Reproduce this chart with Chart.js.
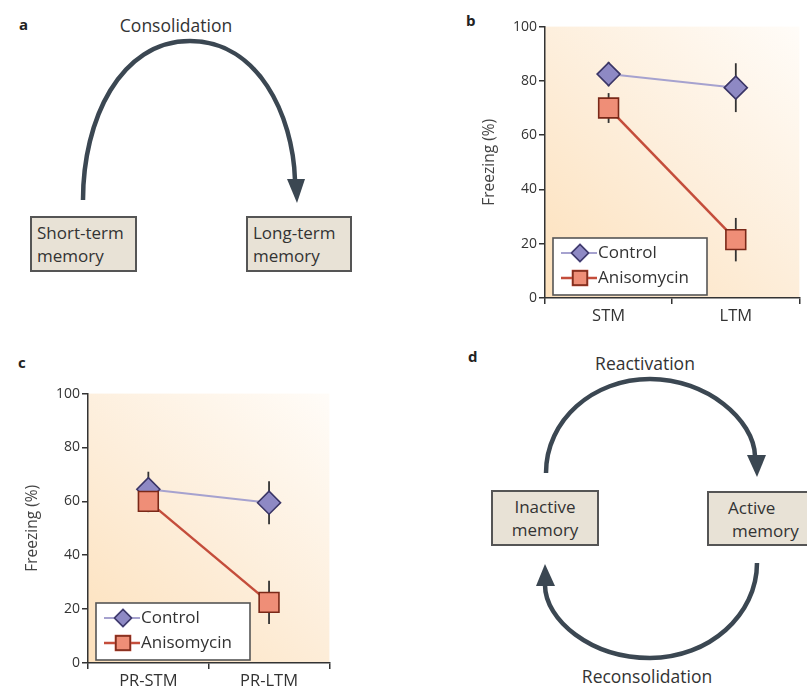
<!DOCTYPE html>
<html>
<head>
<meta charset="utf-8">
<script src="https://cdn.jsdelivr.net/npm/chart.js@4.4.1/dist/chart.umd.min.js"></script>
<style>
  html, body { margin: 0; padding: 0; background: #fff; }
  body { width: 807px; height: 688px; position: relative; overflow: hidden; font-family: "Open Sans", sans-serif; }
  svg#diagram { position: absolute; left: 0; top: 0; }
  canvas { position: absolute; }
  #chartB { left: 480px; top: 11px; }
  #chartC { left: 23px; top: 378px; }
</style>
</head>
<body>
<svg id="diagram" width="807" height="688" font-family="Open Sans, sans-serif">
  <!-- panel letters -->
  <text x="19" y="30" font-size="15" font-weight="bold" fill="#222">a</text>
  <text x="466" y="26" font-size="15" font-weight="bold" fill="#222">b</text>
  <text x="18" y="368" font-size="15" font-weight="bold" fill="#222">c</text>
  <text x="468" y="362" font-size="15" font-weight="bold" fill="#222">d</text>

  <!-- a: consolidation -->
  <text x="176" y="32" font-size="17.5" text-anchor="middle" fill="#333">Consolidation</text>
  <path d="M83,200 C83,120 120,41 190,41 C258,41 293,115 295,180" fill="none" stroke="#3b4752" stroke-width="4.5"/>
  <polygon points="287,179 305,179 297,203" fill="#3b4752"/>
  <rect x="31" y="217" width="105" height="54" fill="#e8e2d6" stroke="#555" stroke-width="2"/>
  <text x="37" y="239" font-size="17" fill="#333">Short-term</text>
  <text x="37" y="262" font-size="17" fill="#333">memory</text>
  <rect x="247" y="217" width="104" height="54" fill="#e8e2d6" stroke="#555" stroke-width="2"/>
  <text x="253" y="239" font-size="17" fill="#333">Long-term</text>
  <text x="253" y="262" font-size="17" fill="#333">memory</text>

  <!-- d: reactivation / reconsolidation -->
  <text x="645" y="370" font-size="17.5" text-anchor="middle" fill="#333">Reactivation</text>
  <path d="M546,473 C546,420 593,379 650,379 C707,379 754,420 755,456" fill="none" stroke="#3b4752" stroke-width="4.5"/>
  <polygon points="747,455 766,455 757,477" fill="#3b4752"/>
  <path d="M757,563 C757,615 709,658 650,658 C591,658 545,620 545,585" fill="none" stroke="#3b4752" stroke-width="4.5"/>
  <polygon points="536,586 555,586 545,564" fill="#3b4752"/>
  <text x="647" y="683" font-size="17.5" text-anchor="middle" fill="#333">Reconsolidation</text>
  <rect x="492" y="491" width="106" height="54" fill="#e8e2d6" stroke="#555" stroke-width="2"/>
  <text x="545" y="513" font-size="17" text-anchor="middle" fill="#333">Inactive</text>
  <text x="545" y="536" font-size="17" text-anchor="middle" fill="#333">memory</text>
  <rect x="708" y="492" width="112" height="53" fill="#e8e2d6" stroke="#555" stroke-width="2"/>
  <text x="728" y="514" font-size="17" fill="#333">Active</text>
  <text x="732" y="537" font-size="17" fill="#333">memory</text>
</svg>

<canvas id="chartB" width="335" height="315"></canvas>
<canvas id="chartC" width="322" height="313"></canvas>

<script>
// ---- data ----
const seriesNames = ['Control', 'Anisomycin'];

const categoriesB = ['STM', 'LTM'];
const controlB = [82.5, 77.5];
const controlErrB = [4.5, 9];
const anisoB = [70, 21.5];
const anisoErrB = [5.5, 8];

const categoriesC = ['PR-STM', 'PR-LTM'];
const controlC = [64.5, 59.5];
const controlErrC = [6.5, 8];
const anisoC = [60, 22.5];
const anisoErrC = [4, 8];

const yTickStep = 20;

const FONT = '"Open Sans", sans-serif';

// peach gradient behind the plot
const bgPlugin = {
    id: 'bgFill',
    beforeDraw(chart) {
        const a = chart.chartArea, ctx = chart.ctx;
        const g = ctx.createLinearGradient(a.left, a.bottom, a.right, a.top);
        g.addColorStop(0, '#fde1bc');
        g.addColorStop(0.5, '#fdeedb');
        g.addColorStop(1, '#fffcf8');
        ctx.save();
        ctx.fillStyle = g;
        ctx.fillRect(a.left, a.top, a.right - a.left, a.bottom - a.top);
        ctx.restore();
    }
};

// vertical error bars, drawn under the markers
const errPlugin = {
    id: 'errBars',
    beforeDatasetsDraw(chart) {
        const ctx = chart.ctx, y = chart.scales.y;
        chart.data.datasets.forEach((ds, i) => {
            const meta = chart.getDatasetMeta(i);
            meta.data.forEach((pt, j) => {
                const v = ds.data[j], e = ds.errors[j];
                ctx.save();
                ctx.strokeStyle = '#333';
                ctx.lineWidth = 1.8;
                ctx.beginPath();
                ctx.moveTo(pt.x, y.getPixelForValue(v + e));
                ctx.lineTo(pt.x, y.getPixelForValue(v - e));
                ctx.stroke();
                ctx.restore();
            });
        });
    }
};

// boxed legend inside the plot, bottom-left
const boxLegend = {
    id: 'boxLegend',
    afterDraw(chart) {
        const a = chart.chartArea, ctx = chart.ctx;
        const w = 154, h = 57;
        const bx = a.left + 8, by = a.bottom - 3 - h;
        ctx.save();
        ctx.fillStyle = '#ffffff';
        ctx.strokeStyle = '#555';
        ctx.lineWidth = 1.6;
        ctx.fillRect(bx, by, w, h);
        ctx.strokeRect(bx, by, w, h);
        const order = [1, 0]; // Control first, then Anisomycin
        order.forEach((di, row) => {
            const ds = chart.data.datasets[di];
            const cy = by + 15 + row * 25;
            ctx.strokeStyle = ds.borderColor;
            ctx.lineWidth = ds.borderWidth;
            ctx.beginPath();
            ctx.moveTo(bx + 8, cy);
            ctx.lineTo(bx + 44, cy);
            ctx.stroke();
            Chart.helpers.drawPoint(ctx, {
                pointStyle: ds.pointStyle,
                radius: ds.pointStyle === 'rect' ? 10 : 8.5,
                borderWidth: 1.5,
                rotation: 0
            }, bx + 27, cy);
            ctx.fillStyle = ds.pointBackgroundColor;
            ctx.strokeStyle = ds.pointBorderColor;
            ctx.lineWidth = 1.5;
            ctx.fill();
            ctx.stroke();
            ctx.fillStyle = '#333';
            ctx.font = '17px ' + FONT;
            ctx.textBaseline = 'middle';
            ctx.fillText(ds.label, bx + 45, cy);
        });
        ctx.restore();
    }
};

function makeChart(id, cats, ctrl, ctrlErr, ani, aniErr) {
    const ctx = document.getElementById(id).getContext('2d');
    return new Chart(ctx, {
        type: 'line',
        data: {
            labels: cats,
            datasets: [
                {
                    label: seriesNames[1],
                    data: ani,
                    errors: aniErr,
                    borderColor: '#c44d3b',
                    borderWidth: 2.5,
                    pointStyle: 'rect',
                    pointRadius: 14,
                    pointBackgroundColor: '#ef8e77',
                    pointBorderColor: '#7a2818',
                    pointBorderWidth: 1.6,
                    order: 1
                },
                {
                    label: seriesNames[0],
                    data: ctrl,
                    errors: ctrlErr,
                    borderColor: '#a6a2cf',
                    borderWidth: 2,
                    pointStyle: 'rectRot',
                    pointRadius: 11.5,
                    pointBackgroundColor: '#8e89c4',
                    pointBorderColor: '#3a3566',
                    pointBorderWidth: 1.6,
                    order: 2
                }
            ]
        },
        options: {
            responsive: false,
            animation: false,
            layout: { padding: { top: 5, right: 0, left: 0, bottom: 0 } },
            plugins: { legend: { display: false }, tooltip: { enabled: false } },
            scales: {
                x: {
                    type: 'category',
                    offset: true,
                    grid: { offset: true, drawOnChartArea: false, tickLength: 6, color: '#333', lineWidth: 1.5 },
                    border: { color: '#333', width: 1.5 },
                    ticks: { font: { family: FONT, size: 16.5 }, color: '#333', padding: 2 },
                    afterFit: s => { s.height = 28; }
                },
                y: {
                    min: 0, max: 100,
                    ticks: { stepSize: yTickStep, font: { family: FONT, size: 14 }, color: '#333', padding: 2 },
                    grid: { drawOnChartArea: false, tickLength: 6, color: '#333', lineWidth: 1.5 },
                    border: { color: '#333', width: 1.5 },
                    title: { display: true, text: 'Freezing (%)', font: { family: FONT, size: 15.5 }, color: '#444', padding: 0 },
                    afterFit: s => { s.width = 65; }
                }
            }
        },
        plugins: [bgPlugin, errPlugin, boxLegend]
    });
}

makeChart('chartB', categoriesB, controlB, controlErrB, anisoB, anisoErrB);
makeChart('chartC', categoriesC, controlC, controlErrC, anisoC, anisoErrC);
</script>
</body>
</html>
